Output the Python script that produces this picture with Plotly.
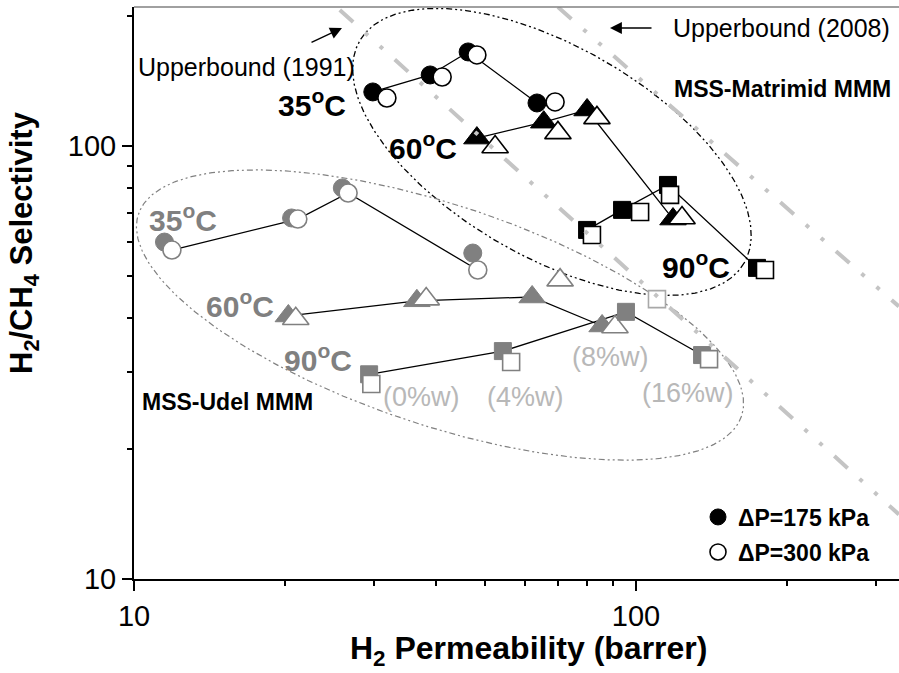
import numpy as np
import plotly.graph_objects as go

# ---------------- data ----------------
# MSS-Matrimid MMM, loadings 0, 4, 8, 16 wt%
mat35_perm_175 = [29.9, 38.9, 46.3, 63.5]
mat35_sel_175 = [133.3, 145.9, 164.9, 125.7]
mat35_perm_300 = [31.9, 41.1, 48.2, 69.0]
mat35_sel_300 = [129.1, 144.3, 162.3, 126.4]

mat60_perm_175 = [48.2, 65.5, 79.9, 118.5]
mat60_sel_175 = [104.3, 113.5, 121.1, 67.8]
mat60_perm_300 = [52.4, 69.9, 83.6, 123.5]
mat60_sel_300 = [99.5, 107.2, 116.1, 68.2]

mat90_perm_175 = [79.9, 93.8, 115.8, 174.2]
mat90_sel_175 = [64.0, 71.2, 81.3, 52.3]
mat90_perm_300 = [81.7, 101.9, 116.9, 180.7]
mat90_sel_300 = [62.3, 70.4, 77.1, 51.7]

# MSS-Udel MMM
udel35_perm_175 = [11.5, 20.6, 26.0, 47.3]
udel35_sel_175 = [60.0, 68.2, 80.0, 56.6]
udel35_perm_300 = [11.9, 21.2, 26.7, 48.4]
udel35_sel_300 = [57.5, 67.8, 77.9, 51.7]

udel60_perm_175 = [20.3, 36.6, 62.1, 85.6]
udel60_sel_175 = [40.5, 43.9, 44.8, 38.4]
udel60_perm_300 = [21.0, 38.2, 70.6, 90.8]
udel60_sel_300 = [39.9, 44.3, 49.0, 38.2]

udel90_perm_175 = [29.4, 54.3, 95.5, 135.4]
udel90_sel_175 = [29.7, 33.6, 41.4, 32.9]
udel90_perm_300 = [29.7, 56.4, 110.1, 139.8]
udel90_sel_300 = [28.2, 31.7, 44.3, 32.2]

# Robeson upper bounds (end points)
ub1991_perm = [25.7, 334.0]
ub1991_sel = [206.1, 14.1]
ub2008_perm = [69.9, 334.0]
ub2008_sel = [209.4, 42.6]

# group ellipses: centre (perm, sel)
ell_mat_center = (68.0, 96.9)
ell_udel_center = (40.7, 40.7)

x_tickvals = [10, 100]
x_ticktext = ["10", "100"]
y_tickvals = [10, 100]
y_ticktext = ["10", "100"]
x_minor = [20, 30, 40, 50, 60, 70, 80, 90, 200, 300]
y_minor = [20, 30, 40, 50, 60, 70, 80, 90, 200]

# ---------------- layout geometry ----------------
W, H = 899, 673
ML, MR, MT, MB = 134, 0, 7, 94
PW, PH = W - ML - MR, H - MT - MB
XR = [1.0, 2.5239]
YR = [1.0, 2.3210]
PPD_X = PW / (XR[1] - XR[0])
PPD_Y = PH / (YR[1] - YR[0])

FONT = "Liberation Sans, Arial, sans-serif"
BLACK = "#000000"
GRAY = "#808080"
LGRAY = "#b8b8b8"
UBGRAY = "#c4c4c4"


def pap(px, py):
    return (px - ML) / PW, (MT + PH - py) / PH


def ellipse(center, a_px, b_px, theta_deg):
    t = np.linspace(0, 2 * np.pi, 400)
    th = np.radians(theta_deg)
    dx = a_px * np.cos(th) * np.cos(t) - b_px * np.sin(th) * np.sin(t)
    dy = a_px * np.sin(th) * np.cos(t) + b_px * np.cos(th) * np.sin(t)
    lx = np.log10(center[0]) + dx / PPD_X
    ly = np.log10(center[1]) - dy / PPD_Y
    return 10 ** lx, 10 ** ly


fig = go.Figure()

ELL_DASH = "6px,3px,2px,3px,2px,3px"
ex, ey = ellipse(ell_mat_center, 222, 105, 30)
fig.add_trace(go.Scatter(x=ex, y=ey, mode="lines", showlegend=False, hoverinfo="skip",
                         line=dict(color=BLACK, width=1.3, dash=ELL_DASH)))
ex, ey = ellipse(ell_udel_center, 318, 110, 18.5)
fig.add_trace(go.Scatter(x=ex, y=ey, mode="lines", showlegend=False, hoverinfo="skip",
                         line=dict(color=GRAY, width=1.2, dash=ELL_DASH)))

# connecting lines
for xs, ys in [(mat35_perm_175, mat35_sel_175), (mat60_perm_175, mat60_sel_175),
               (mat90_perm_175, mat90_sel_175), (udel35_perm_300, udel35_sel_300),
               (udel60_perm_175, udel60_sel_175), (udel90_perm_175, udel90_sel_175)]:
    fig.add_trace(go.Scatter(x=xs, y=ys, mode="lines", showlegend=False, hoverinfo="skip",
                             line=dict(color=BLACK, width=1.3)))

SIZES = {"circle": 18, "triangle-up": 23, "square": 17}


def filled(xs, ys, sym, color):
    fig.add_trace(go.Scatter(x=xs, y=ys, mode="markers", showlegend=False,
                             marker=dict(symbol=sym, size=SIZES[sym], color=color,
                                         line=dict(color=color, width=1))))


def opened(xs, ys, sym, color):
    fig.add_trace(go.Scatter(x=xs, y=ys, mode="markers", showlegend=False,
                             marker=dict(symbol=sym, size=SIZES[sym], color="white",
                                         line=dict(color=color, width=1.6))))


filled(udel35_perm_175, udel35_sel_175, "circle", GRAY)
opened(udel35_perm_300, udel35_sel_300, "circle", GRAY)
filled(udel60_perm_175, udel60_sel_175, "triangle-up", GRAY)
opened(udel60_perm_300, udel60_sel_300, "triangle-up", GRAY)
filled(udel90_perm_175, udel90_sel_175, "square", GRAY)
opened(udel90_perm_300, udel90_sel_300, "square", [GRAY, GRAY, "#a8a8a8", GRAY])

filled(mat35_perm_175, mat35_sel_175, "circle", BLACK)
opened(mat35_perm_300, mat35_sel_300, "circle", BLACK)
filled(mat60_perm_175, mat60_sel_175, "triangle-up", BLACK)
opened(mat60_perm_300, mat60_sel_300, "triangle-up", BLACK)
filled(mat90_perm_175, mat90_sel_175, "square", BLACK)
opened(mat90_perm_300, mat90_sel_300, "square", BLACK)

UB_DASH = "18px,16px,4px,16px,4px,16px"
fig.add_trace(go.Scatter(x=ub1991_perm, y=ub1991_sel, mode="lines", showlegend=False,
                         hoverinfo="skip", line=dict(color=UBGRAY, width=4, dash=UB_DASH)))
fig.add_trace(go.Scatter(x=ub2008_perm, y=ub2008_sel, mode="lines", showlegend=False,
                         hoverinfo="skip", line=dict(color=UBGRAY, width=4, dash=UB_DASH)))

# legend entries
fig.add_trace(go.Scatter(x=[None], y=[None], mode="markers", name="<b>\u0394P=175 kPa</b>",
                         legend="legend",
                         marker=dict(symbol="circle", size=18, color=BLACK,
                                     line=dict(color=BLACK, width=1))))
fig.add_trace(go.Scatter(x=[None], y=[None], mode="markers", name="<b>\u0394P=300 kPa</b>",
                         legend="legend2",
                         marker=dict(symbol="circle", size=18, color="white",
                                     line=dict(color=BLACK, width=1.6))))

# ---------------- annotations ----------------
labels = [
    ("<b>35<sup>o</sup>C</b>", 312, 103, BLACK, 30),
    ("<b>60<sup>o</sup>C</b>", 423, 146, BLACK, 30),
    ("<b>90<sup>o</sup>C</b>", 696, 265, BLACK, 30),
    ("<b>35<sup>o</sup>C</b>", 183, 218, GRAY, 30),
    ("<b>60<sup>o</sup>C</b>", 240, 304, GRAY, 30),
    ("<b>90<sup>o</sup>C</b>", 318, 358, GRAY, 30),
    ("<b>MSS-Matrimid MMM</b>", 782, 89, BLACK, 23),
    ("<b>MSS-Udel MMM</b>", 227, 402, BLACK, 23),
    ("Upperbound (1991)", 246, 67, BLACK, 25),
    ("Upperbound (2008)", 781, 28, BLACK, 25),
    ("(0%w)", 421, 397, LGRAY, 27),
    ("(4%w)", 525, 397, LGRAY, 27),
    ("(8%w)", 610, 357, LGRAY, 27),
    ("(16%w)", 688, 393, LGRAY, 27),
]
annotations = []
for txt, px, py, col, sz in labels:
    xp, yp = pap(px, py)
    annotations.append(dict(text=txt, x=xp, y=yp, xref="paper", yref="paper",
                            xanchor="center", yanchor="middle", showarrow=False,
                            font=dict(family=FONT, size=sz, color=col)))

# arrows (head position, tail offset in px)
arrows = [((342, 28), (-32, 15)), ((610, 28), (43, 0))]
for (hx, hy), (ax, ay) in arrows:
    xp, yp = pap(hx, hy)
    annotations.append(dict(text="", x=xp, y=yp, xref="paper", yref="paper",
                            ax=ax, ay=ay, showarrow=True, arrowhead=2, arrowsize=1.7,
                            arrowwidth=1.4, arrowcolor=BLACK, standoff=0, startstandoff=0))

# axis titles
xp, yp = pap(528, 650)
annotations.append(dict(text="<b>H<sub>2</sub> Permeability (barrer)</b>", x=xp, y=yp,
                        xref="paper", yref="paper", xanchor="center", yanchor="middle",
                        showarrow=False, font=dict(family=FONT, size=32, color=BLACK)))
xp, yp = pap(24, 243)
annotations.append(dict(text="<b>H<sub>2</sub>/CH<sub>4</sub> Selectivity</b>", x=xp, y=yp,
                        xref="paper", yref="paper", xanchor="center", yanchor="middle",
                        textangle=-90, showarrow=False,
                        font=dict(family=FONT, size=31, color=BLACK)))

fig.update_layout(
    width=W, height=H,
    margin=dict(l=ML, r=MR, t=MT, b=MB, pad=0),
    paper_bgcolor="white", plot_bgcolor="white",
    font=dict(family=FONT, color=BLACK),
    annotations=annotations,
    shapes=[dict(type="line", xref="paper", yref="paper", x0=0, x1=1, y0=1, y1=1,
                 line=dict(color=GRAY, width=1.5))],
    legend=dict(x=(698 - ML) / PW, y=pap(0, 517)[1], xanchor="left", yanchor="middle",
                bgcolor="rgba(0,0,0,0)", font=dict(family=FONT, size=23, color=BLACK),
                itemwidth=30),
    legend2=dict(x=(698 - ML) / PW, y=pap(0, 552)[1], xanchor="left", yanchor="middle",
                 bgcolor="rgba(0,0,0,0)", font=dict(family=FONT, size=23, color=BLACK),
                 itemwidth=30),
    xaxis=dict(type="log", range=XR, showgrid=False, zeroline=False,
               showline=True, linecolor=BLACK, linewidth=2,
               tickvals=x_tickvals, ticktext=x_ticktext, ticks="outside",
               ticklen=10, tickwidth=2, tickcolor=BLACK,
               tickfont=dict(family=FONT, size=29, color=BLACK),
               minor=dict(tickvals=x_minor, ticks="outside", ticklen=5, tickwidth=1.5,
                          tickcolor=BLACK, showgrid=False)),
    yaxis=dict(type="log", range=YR, showgrid=False, zeroline=False,
               showline=True, linecolor=BLACK, linewidth=2,
               tickvals=y_tickvals, ticktext=y_ticktext, ticks="outside",
               ticklen=10, tickwidth=2, tickcolor=BLACK,
               tickfont=dict(family=FONT, size=29, color=BLACK),
               minor=dict(tickvals=y_minor, ticks="outside", ticklen=5, tickwidth=1.5,
                          tickcolor=BLACK, showgrid=False)),
)

fig.write_html("out.html")
